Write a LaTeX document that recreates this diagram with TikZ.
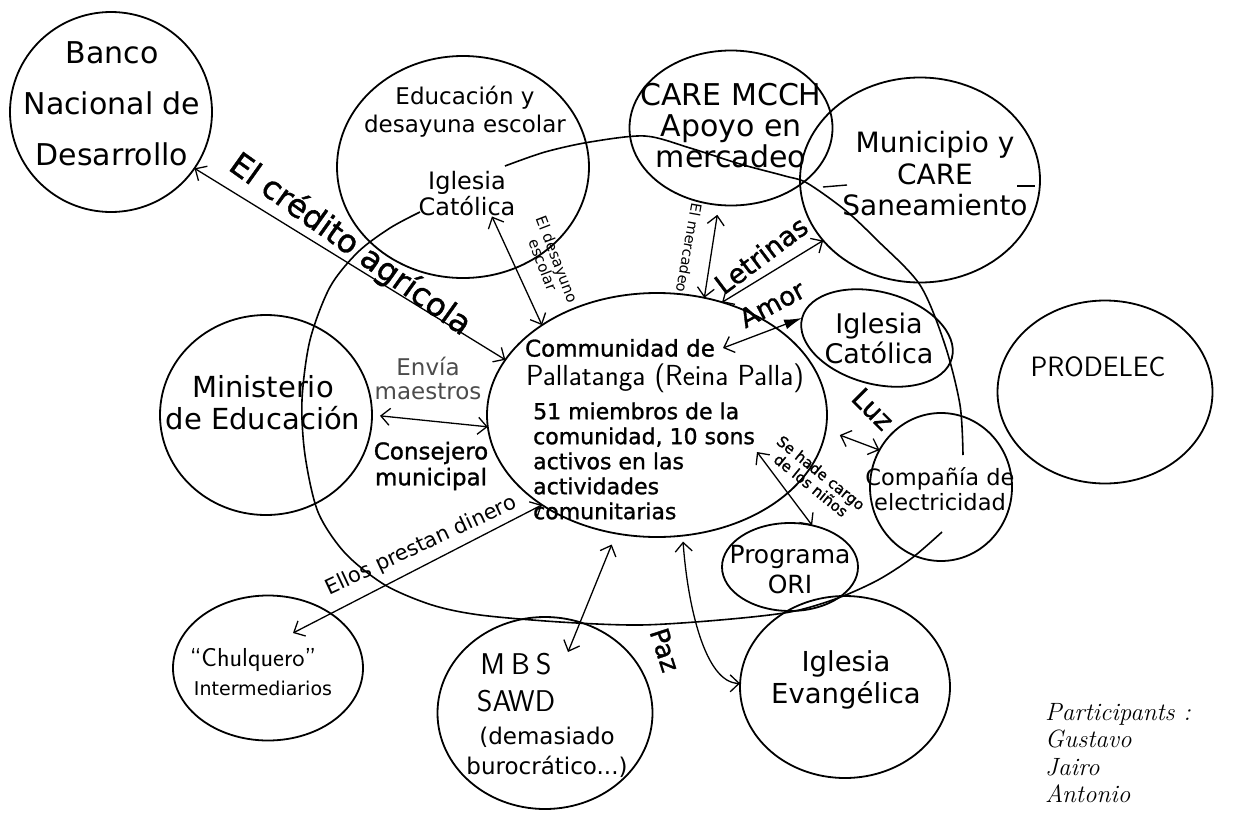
\documentclass[tikz,border=0pt]{standalone}
\usepackage{fontspec}
\setmainfont{DejaVu Sans}
\newfontfamily\semib{DejaVu Sans}[FakeBold=1.2]
\newfontfamily\partfont{Latin Modern Roman}
\usetikzlibrary{shapes.geometric,arrows.meta}
\newcommand\fsz[2]{\fontsize{#1}{#2}\selectfont}
\newcommand\handfont{\sffamily}

\tikzset{
  blob/.style={draw, ellipse, line width=1.8pt, inner sep=0pt, outer sep=0pt},
  lbl/.style={align=center, inner sep=0pt},
  dbl/.style={line width=1.3pt,
    {Straight Barb[length=9pt,width=17pt]}-{Straight Barb[length=9pt,width=17pt]}},
  amorline/.style={line width=1.3pt,
    {Straight Barb[length=9pt,width=17pt]}-{Latex[length=18pt,width=10pt]}},
  loopline/.style={line width=1.6pt},
}

\begin{document}
\begin{tikzpicture}[x=1pt,y=-1pt]
\useasboundingbox (0,0) rectangle (1256,822);

% ---- actors (circles) ----
\node[blob, minimum width=202pt, minimum height=200pt] (banco) at (111,112) {};
\node[blob, minimum width=252pt, minimum height=222pt] (edu) at (463,167) {};
\node[blob, minimum width=203pt, minimum height=155pt] (care) at (731,128) {};
\node[blob, minimum width=240pt, minimum height=205pt] (muni) at (920,180) {};
\node[blob, minimum width=155pt, minimum height=92pt, rotate=-15] (iglc) at (877,338) {};
\node[blob, minimum width=215pt, minimum height=183pt] (prod) at (1105,392) {};
\node[blob, minimum width=142pt, minimum height=148pt] (comp) at (941,487) {};
\node[blob, minimum width=212pt, minimum height=200pt] (mini) at (266,415) {};
\node[blob, minimum width=340pt, minimum height=244pt] (com) at (657,415) {};
\node[blob, minimum width=136pt, minimum height=88pt] (ori) at (790,567) {};
\node[blob, minimum width=210pt, minimum height=182pt] (evan) at (845,687) {};
\node[blob, minimum width=215pt, minimum height=192pt] (mbs) at (545,713) {};
\node[blob, minimum width=190pt, minimum height=145pt] (chul) at (268,668) {};

% ---- texts of the actors ----
\node[lbl, font=\fsz{30}{51}] (bancoT) at (112,104) {Banco\\Nacional de\\Desarrollo};
\node[lbl, font=\fsz{23}{28}] (eduT) at (465,112) {Educación y\\desayuna escolar};
\node[lbl, font=\fsz{24}{26}] (iglt) at (467,194) {Iglesia\\Católica};
\node[lbl, font=\fsz{30}{31}] (careT) at (731,126) {CARE MCCH\\Apoyo en\\mercadeo};
\node[lbl, font=\fsz{28}{31.5}] (muniT) at (935,174) {Municipio y\\CARE\\Saneamiento};
\draw[line width=1.4pt] (823,187) -- (847,185);
\draw[line width=1.4pt] (1017,186) -- (1035,186);
\node[lbl, font=\fsz{27}{30}] (iglcT) at (879,338) {Iglesia\\Católica};
\node[lbl, font=\handfont\fsz{28}{30}] (prodT) at (1098,367) {PRODELEC};
\node[lbl, font=\fsz{29}{32}] (miniT) at (263,403) {Ministerio\\de Educación};
\node[lbl, font=\semib\fsz{23}{26}] (comT) at (620,348) {Communidad de};
\node[lbl, font=\handfont\fsz{29}{30}] (pallT) at (665,378) {Pallatanga (Reina Palla)};
\node[lbl, font=\semib\fsz{22}{25}, align=left, anchor=west] (membT) at (533,461)
  {51 miembros de la\\comunidad, 10 sons\\activos en las\\actividades\\comunitarias};
\node[lbl, font=\fsz{22.5}{25}] (compT) at (940,489) {Compañía de\\electricidad};
\node[lbl, font=\fsz{25}{30}] (oriT) at (790,570) {Programa\\ORI};
\node[lbl, font=\fsz{27.5}{32}] (evanT) at (846,680) {Iglesia\\Evangélica};
\node[lbl, font=\handfont\fsz{30}{37}] (mbsT) at (516,683) {M\hspace{6pt}B\hspace{6pt}S\\SAWD};
\node[lbl, font=\fsz{23}{30}] (mbsT2) at (547,752) {(demasiado\\burocrático...)};
\node[lbl, font=\handfont\fsz{26}{28}] (chulT) at (253,660) {“Chulquero”};
\node[lbl, font=\fsz{19}{20}] (chulT2) at (263,688) {Intermediarios};
\node[lbl, font=\partfont\itshape\fsz{25}{27.5}, align=left, anchor=north west] (partT) at (1045,703)
  {Participants :\\Gustavo\\Jairo\\Antonio};

% ---- the large loop around the community ----
\draw[loopline] plot[smooth] coordinates {(505,166) (545,152) (590,142) (645,136)
  (690,148) (740,164) (785,176) (807,183) (845,210) (877,240) (920,285) (945,345)
  (960,405) (963,455)};
\draw[loopline] plot[smooth] coordinates {(942,532) (912,558) (878,580) (838,598)
  (790,612) (720,620) (640,625) (560,622) (480,615) (432,605) (385,585) (345,553)
  (318,512) (305,455) (302,400) (310,340) (330,287) (358,252) (390,228) (420,212)};

% ---- inner ends of some connectors ----
\coordinate (amorIn) at (723,348);
\coordinate (ninosIn) at (757,452);
\coordinate (chulIn) at (293,633);
\coordinate (mbsIn) at (568,652);

% ---- connectors ----
\draw[dbl] (banco.-34) -- (com.160);
\draw[dbl, shorten <=8pt] (mini.0) -- (com.184);
\draw[dbl] (iglt.-42) -- (com.142);
\draw[dbl, shorten <=10pt] (care.-99) -- (com.68);
\draw[dbl] (com.60) -- (muni.212);
\draw[amorline] (amorIn) -- (iglc.west);
\draw[dbl, shorten <=15pt] (com.-5) -- (comp.149);
\draw[dbl] (ninosIn) -- (ori.62);
\draw[dbl] (chulIn) -- (com.218);
\draw[dbl, shorten >=12pt] (mbsIn) -- (com.-109);
\draw[dbl, shorten <=6pt] (com.-78) .. controls +(5,70) and +(-35,0) .. (evan.178);

% ---- connector labels ----
\node[lbl, font=\semib\fsz{32}{34}, rotate=-35.5] (credT) at (350,245) {El crédito agrícola};
\node[lbl, font=\fsz{23}{24}, text=black!70] (envT) at (428,378) {Envía\\maestros};
\node[lbl, font=\semib\fsz{23}{26}] (consT) at (431,466) {Consejero\\municipal};
\node[lbl, font=\fsz{15}{15}, rotate=-69] (desT) at (550,262) {El desayuno\\escolar};
\node[lbl, font=\fsz{14.5}{15}, rotate=-100] (merT) at (689,248) {El mercadeo};
\node[lbl, font=\semib\fsz{27}{28}, rotate=37] (letT) at (761,255) {Letrinas};
\node[lbl, font=\semib\fsz{26}{28}, rotate=28] (amorT) at (772,304) {Amor};
\node[lbl, font=\semib\fsz{27}{28}, rotate=-45] (luzT) at (873,409) {Luz};
\node[lbl, font=\semib\fsz{26}{28}, rotate=-72] (pazT) at (665,650) {Paz};
\node[lbl, font=\semib\fsz{15}{16}, rotate=-39] (ninT) at (816,479) {Se hade cargo\\de los niños};
\node[lbl, font=\fsz{21}{22}, rotate=25] (preT) at (421,546) {Ellos prestan dinero};
\end{tikzpicture}
\end{document}
